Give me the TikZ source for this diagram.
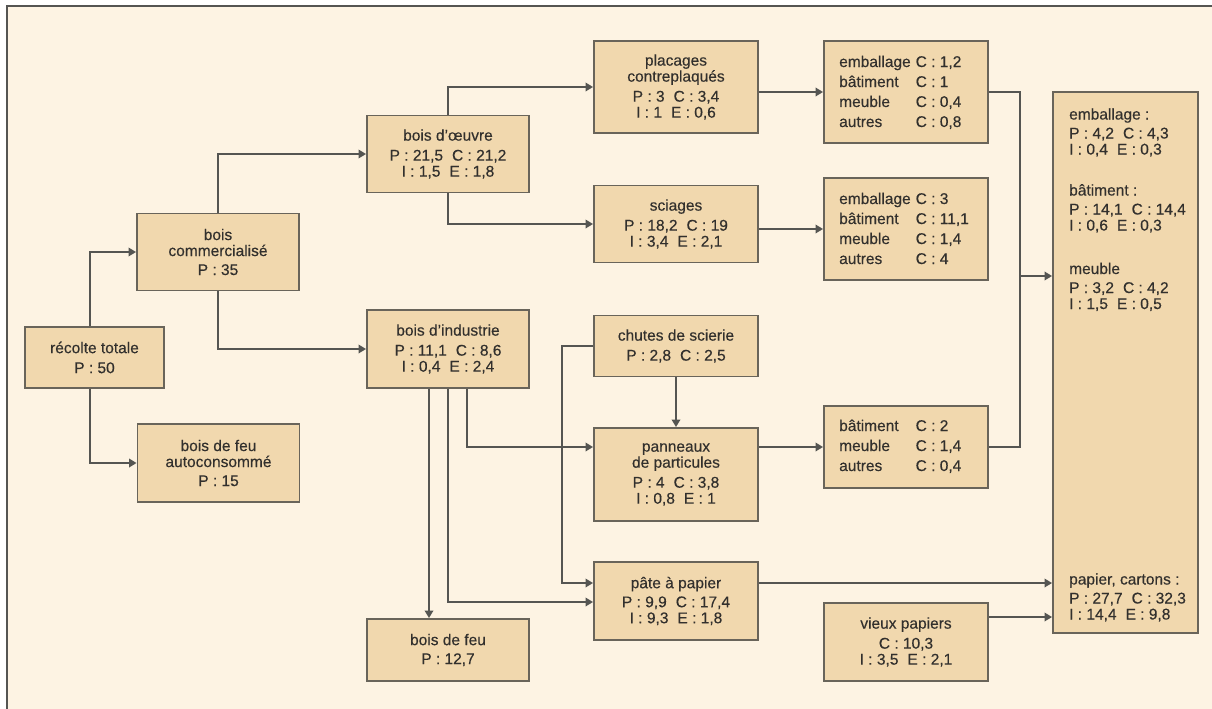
\documentclass[tikz,border=0pt]{standalone}
\usepackage{fontspec}
\setmainfont{Liberation Sans}[FakeBold=0.35]
\usetikzlibrary{arrows.meta}
\definecolor{bgc}{RGB}{253,243,227}
\definecolor{boxfill}{RGB}{241,216,174}
\definecolor{boxline}{RGB}{105,100,90}
\definecolor{linec}{RGB}{85,85,82}
\definecolor{textc}{RGB}{50,48,45}
\newcommand\grp{\hspace{9pt}}
\begin{document}
\begin{tikzpicture}[x=1pt,y=-1pt,
  box/.style={draw=boxline,line width=1.9pt,fill=boxfill,inner sep=0pt,align=center,text=textc,font=\fontsize{15.5}{16}\selectfont},
  conn/.style={draw=linec,line width=1.8pt},
  arr/.style={conn,-{Triangle[length=7.5pt,width=8.5pt]}},
  lbl/.style={inner sep=0pt,align=left,text=textc,font=\fontsize{15.5}{16}\selectfont},
  tab/.style={inner sep=0pt,text=textc,font=\fontsize{15.5}{16}\selectfont\renewcommand\arraystretch{1.25}}]
\useasboundingbox (0,0) rectangle (1212,709);
\fill[white] (0,0) rectangle (1212,709);
\fill[bgc] (7,6) rectangle (1212,709);
\draw[linec,line width=1.3pt] (7,709) -- (7,6) -- (1212,6);

% boxes
\node[box,minimum width=139pt,minimum height=61pt] (rec) at (94.5,357.5) {récolte totale\\[4pt]P : 50};
\node[box,minimum width=162pt,minimum height=77pt] (com) at (218,252) {bois\\commercialisé\\[3pt]P : 35};
\node[box,minimum width=162pt,minimum height=78pt] (auto) at (218.5,463) {bois de feu\\autoconsommé\\[3pt]P : 15};
\node[box,minimum width=162pt,minimum height=77pt] (oeu) at (448,154) {bois d’œuvre\\[4pt]P : 21,5\grp C : 21,2\\I : 1,5\grp E : 1,8};
\node[box,minimum width=162pt,minimum height=78pt] (ind) at (448,349) {bois d’industrie\\[4pt]P : 11,1\grp C : 8,6\\I : 0,4\grp E : 2,4};
\node[box,minimum width=162pt,minimum height=62pt] (feu) at (448,650) {bois de feu\\[3pt]P : 12,7};
\node[box,minimum width=164pt,minimum height=92pt] (pla) at (676,87) {placages\\contreplaqués\\[4pt]P : 3\grp C : 3,4\\I : 1\grp E : 0,6};
\node[box,minimum width=164pt,minimum height=77pt] (sci) at (676,224) {sciages\\[4pt]P : 18,2\grp C : 19\\I : 3,4\grp E : 2,1};
\node[box,minimum width=164pt,minimum height=61pt] (chu) at (676,346) {chutes de scierie\\[4pt]P : 2,8\grp C : 2,5};
\node[box,minimum width=164pt,minimum height=93pt] (pan) at (676,474.5) {panneaux\\de particules\\[4pt]P : 4\grp C : 3,8\\I : 0,8\grp E : 1};
\node[box,minimum width=164pt,minimum height=78pt] (pat) at (676,601) {pâte à papier\\[3pt]P : 9,9\grp C : 17,4\\I : 9,3\grp E : 1,8};
\node[box,minimum width=164pt,minimum height=102pt] (e1) at (906,92) {};
\node[box,minimum width=164pt,minimum height=102pt] (e2) at (906,229) {};
\node[box,minimum width=164pt,minimum height=82pt] (e3) at (906,447) {};
\node[box,minimum width=164pt,minimum height=78pt] (vp) at (906,642) {vieux papiers\\[4pt]C : 10,3\\I : 3,5\grp E : 2,1};
\node[box,minimum width=145pt,minimum height=541pt] (big) at (1125.5,362.5) {};

% tables in product boxes
\node[tab,anchor=west] (t1) at (839,93) {\begin{tabular}{@{}l@{\hspace{5pt}}l@{}}emballage & C : 1,2\\bâtiment & C : 1\\meuble & C : 0,4\\autres & C : 0,8\end{tabular}};
\node[tab,anchor=west] (t2) at (839,230) {\begin{tabular}{@{}l@{\hspace{5pt}}l@{}}emballage & C : 3\\bâtiment & C : 11,1\\meuble & C : 1,4\\autres & C : 4\end{tabular}};
\node[tab,anchor=west] (t3) at (839,447) {\begin{tabular}{@{}l@{\hspace{17pt}}l@{}}bâtiment & C : 2\\meuble & C : 1,4\\autres & C : 0,4\end{tabular}};

% groups in the right-hand box (base = last line)
\node[lbl,anchor=base west] (g1) at (1069,154.5) {emballage :\\[3pt]P : 4,2\grp C : 4,3\\I : 0,4\grp E : 0,3};
\node[lbl,anchor=base west] (g2) at (1069,230.5) {bâtiment :\\[3pt]P : 14,1\grp C : 14,4\\I : 0,6\grp E : 0,3};
\node[lbl,anchor=base west] (g3) at (1069,309) {meuble\\[3pt]P : 3,2\grp C : 4,2\\I : 1,5\grp E : 0,5};
\node[lbl,anchor=base west] (g4) at (1069,619.5) {papier, cartons :\\[3pt]P : 27,7\grp C : 32,3\\I : 14,4\grp E : 9,8};

% bend points
\coordinate (rx) at (90,0);
\coordinate (ix1) at (429,0);
\coordinate (ix3) at (467,0);
\coordinate (ya) at (0,447);
\coordinate (yb) at (0,602);
\coordinate (yc) at (0,583);
\coordinate (yd) at (0,617);
\coordinate (ch) at (562,583);
\coordinate (bus) at (1020,276);

% connectors
\draw[arr] (rec.north -| rx) |- (com.west);
\draw[arr] (rec.south -| rx) |- (auto.west);
\draw[arr] (com.north) |- (oeu.west);
\draw[arr] (com.south) |- (ind.west);
\draw[arr] (oeu.north) |- (pla.west);
\draw[arr] (oeu.south) |- (sci.west);
\draw[arr] (pla.east |- e1.west) -- (e1.west);
\draw[arr] (sci.east |- e2.west) -- (e2.west);
\draw[conn] (e1.east) -| (bus);
\draw[conn] (e3.east) -| (bus);
\draw[arr] (bus) -- (bus -| big.west);
\draw[arr] (ind.south -| ix1) -- (feu.north -| ix1);
\draw[arr] (ind.south) |- (pat.west |- yb);
\draw[arr] (ind.south -| ix3) |- (pan.west |- ya);
\draw[arr] (chu.west) -| (ch) -- (pat.west |- ch);
\draw[arr] (chu.south) -- (pan.north);
\draw[arr] (pan.east |- e3.west) -- (e3.west);
\draw[arr] (pat.east |- yc) -- (big.west |- yc);
\draw[arr] (vp.east |- yd) -- (big.west |- yd);
\end{tikzpicture}
\end{document}
